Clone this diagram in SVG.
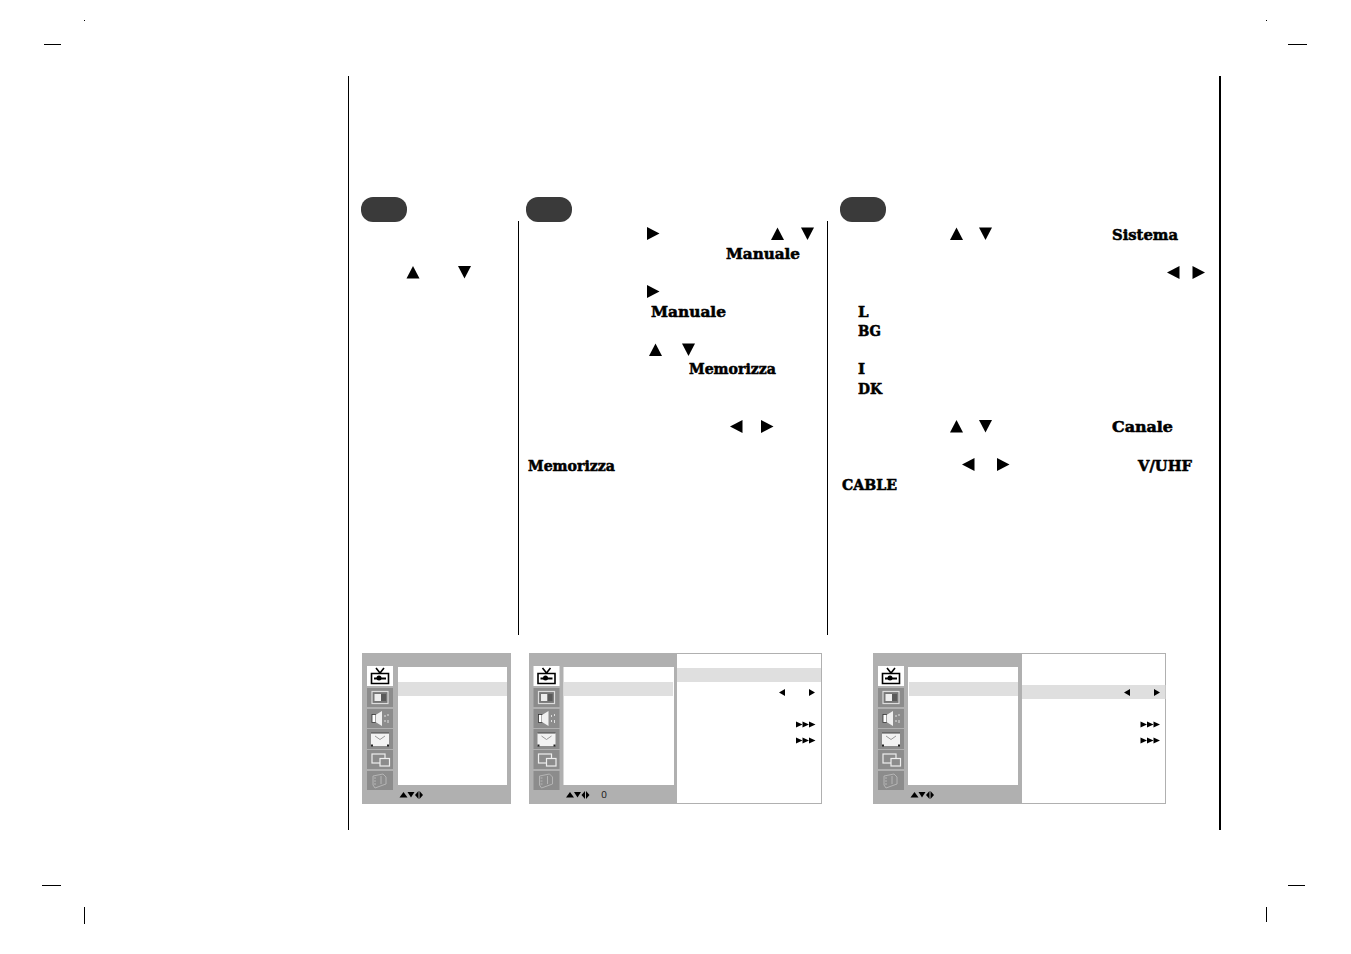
<svg xmlns="http://www.w3.org/2000/svg" width="1351" height="954" viewBox="0 0 1351 954">
<style>
.b{font-family:"DejaVu Serif","Liberation Serif",serif;font-weight:700;font-size:15px;fill:#000;stroke:#000;stroke-width:.55px}
.k{fill:#000}
.g{fill:#b0b0b0}
.w{fill:#fff}
.h{fill:#dfdfdf}
.t{fill:#8c8c8c}
.l{stroke:#000;fill:none}
.i{fill:none;stroke:#eee;stroke-width:1.2}
.d{fill:none;stroke:#000;stroke-width:1.6}
.bd{fill:none;stroke:#b0b0b0;stroke-width:1}
.p{fill:#3a3a3a}
</style>
<defs>
<polygon id="up" points="6.500,0 13,12.500 0,12.500"/>
<polygon id="dn" points="0,0 13,0 6.500,12.500"/>
<polygon id="lf" points="0,6.500 12.500,0 12.500,13"/>
<polygon id="rt" points="0,0 12.500,6.500 0,13"/>
<polygon id="sl" points="0,3 6,-0.500 6,6.500"/>
<polygon id="sr" points="0,-0.500 6,3 0,6.500"/>
<g id="triple"><polygon points="0,-0.500 6.500,2.500 0,5.500"/><polygon points="6.500,-0.500 13,2.500 6.500,5.500"/><polygon points="13,-0.500 19.500,2.500 13,5.500"/></g>
<g id="nav"><polygon points="0,5.500 4,0 8,5.500"/><polygon points="8,0 15,0 11.500,5.500"/><polygon points="15.500,3 19,-1 19,7"/><polygon points="20,-1 23.500,3 20,7"/></g>
<g id="icons">
<rect class="w" x="0" y="0" width="26" height="20"/>
<path class="d" d="M4.500 7.500H21.500V17.500H4.500ZM9 2L13 7L17 2" stroke-width="1.800"/>
<path d="M7 12.500H19" stroke="#000" stroke-width="2"/><circle cx="12" cy="12" r="2.500"/>
<rect class="t" x="0" y="22" width="26" height="19"/>
<rect x="5" y="25.500" width="16" height="12" fill="#777" stroke="#ddd" stroke-width="1.200"/><rect x="7.500" y="28" width="6.500" height="7" fill="#eee"/><rect x="14" y="28" width="5" height="7" fill="#5a5a5a"/>
<rect class="t" x="0" y="43" width="26" height="19"/>
<rect x="5" y="48.500" width="3.500" height="8" fill="#fff" stroke="#333" stroke-width=".8"/><path d="M8.500 49L15 45V60L8.500 56Z" fill="#f0f0f0"/><path d="M18 49V51M18 54V56M21 48V50M21 54V57" stroke="#ddd" fill="none"/>
<rect class="t" x="0" y="63" width="26" height="20"/>
<rect x="4" y="67" width="18" height="13" fill="#f2f2f2"/><path d="M4 67H22" stroke="#444"/><path d="M8 70L13 73.500L18 70" stroke="#999" fill="none"/>
<rect x="4" y="78.500" width="2" height="2" fill="#222"/><rect x="20" y="78.500" width="2" height="2" fill="#222"/>
<rect class="t" x="0" y="84" width="26" height="19"/>
<rect class="i" x="5" y="88" width="13" height="9"/><rect x="13" y="92.500" width="9.500" height="7.500" fill="#8c8c8c" stroke="#eee" stroke-width="1.200"/>
<rect class="t" x="0" y="105" width="26" height="19"/>
<path d="M6 110L16 108L19 111V118L8 122L6 119Z" fill="none" stroke="#b5b5b5"/><path d="M14 110V118M7 112H9M7 115H9M7 118H9" stroke="#b5b5b5"/>
</g>
</defs>

<g id="crop-marks">
<path class="l" d="M44 44.500H61M42 885.500H61M1288 44.500H1307M1288 885.500H1305M84.500 907V924M1266.500 907V922" stroke-width="1"/>
<rect class="k" x="84" y="20" width="1" height="1"/><rect class="k" x="1266" y="20" width="1" height="1"/>
</g>

<g id="connectors">
<path class="l" stroke-width="1" d="M348.500 76V830M518.500 221V635M827.500 221V635"/>
<path class="l" stroke-width="2" d="M1220 76V830"/>
</g>

<g id="step-1">
<rect class="p" x="361" y="197" width="46" height="25" rx="12"/>
<use href="#up" x="406.500" y="266"/><use href="#dn" x="458" y="266"/>
</g>

<g id="step-2">
<rect class="p" x="526" y="197" width="46" height="25" rx="12"/>
<use href="#rt" x="647" y="227"/><use href="#up" x="771" y="227.500"/><use href="#dn" x="801" y="227.500"/>
<text class="b" x="726" y="259" textLength="74" lengthAdjust="spacingAndGlyphs">Manuale</text>
<use href="#rt" x="647" y="285"/>
<text class="b" x="651" y="317" textLength="75" lengthAdjust="spacingAndGlyphs">Manuale</text>
<use href="#up" x="649" y="343.500"/><use href="#dn" x="682" y="343.500"/>
<text class="b" x="689" y="374" textLength="87" lengthAdjust="spacingAndGlyphs">Memorizza</text>
<use href="#lf" x="730" y="420"/><use href="#rt" x="761" y="420"/>
<text class="b" x="528" y="471" textLength="87" lengthAdjust="spacingAndGlyphs">Memorizza</text>
</g>

<g id="step-3">
<rect class="p" x="840" y="197" width="46" height="25" rx="12"/>
<use href="#up" x="950" y="227.500"/><use href="#dn" x="979" y="227.500"/>
<text class="b" x="1112" y="240" textLength="66" lengthAdjust="spacingAndGlyphs">Sistema</text>
<use href="#lf" x="1167" y="266"/><use href="#rt" x="1192.500" y="266"/>
<text class="b" x="858" y="317">L</text>
<text class="b" x="858" y="336" textLength="23" lengthAdjust="spacingAndGlyphs">BG</text>
<text class="b" x="858" y="374">I</text>
<text class="b" x="858" y="394" textLength="24" lengthAdjust="spacingAndGlyphs">DK</text>
<use href="#up" x="950" y="420"/><use href="#dn" x="979" y="420"/>
<text class="b" x="1112" y="432" textLength="61" lengthAdjust="spacingAndGlyphs">Canale</text>
<use href="#lf" x="962" y="458"/><use href="#rt" x="997" y="458"/>
<text class="b" x="1138" y="471" textLength="54" lengthAdjust="spacingAndGlyphs">V/UHF</text>
<text class="b" x="842" y="490" textLength="55" lengthAdjust="spacingAndGlyphs">CABLE</text>
</g>

<g id="menu-1">
<rect class="g" x="362" y="653" width="149" height="151"/>
<rect class="w" x="398" y="667" width="109" height="118"/>
<rect class="h" x="398" y="682" width="109" height="14"/>
<use href="#icons" x="367" y="666"/>
<use href="#nav" x="399.500" y="792"/>
</g>

<g id="menu-2">
<rect class="g" x="529" y="653" width="148" height="151"/>
<rect class="w" x="563.500" y="667" width="110.500" height="118"/>
<rect class="h" x="564" y="682" width="109" height="14"/>
<use href="#icons" x="533.500" y="666"/>
<use href="#nav" x="566" y="792"/>
<text x="604" y="798" font-family="Liberation Sans,sans-serif" font-size="10" fill="#222" text-anchor="middle" text-rendering="geometricPrecision">0</text>
<rect class="w" x="677" y="653.500" width="144.500" height="150"/>
<rect class="bd" x="676.500" y="653.500" width="145" height="150"/>
<rect class="h" x="677" y="668" width="144" height="14"/>
<use href="#sl" x="779" y="689.500"/><use href="#sr" x="809" y="689.500"/>
<use href="#triple" x="796" y="722"/><use href="#triple" x="796" y="738"/>
</g>

<g id="menu-3">
<rect class="g" x="873" y="653" width="149" height="151"/>
<rect class="w" x="908" y="667" width="110" height="118"/>
<rect class="h" x="909" y="682" width="109" height="14"/>
<use href="#icons" x="878" y="666"/>
<use href="#nav" x="910.500" y="792"/>
<rect class="w" x="1022" y="653.500" width="143.500" height="150"/>
<rect class="bd" x="1021.500" y="653.500" width="144" height="150"/>
<rect class="h" x="1022" y="685" width="143.500" height="14"/>
<use href="#sl" x="1124" y="689.500"/><use href="#sr" x="1154" y="689.500"/>
<use href="#triple" x="1140.500" y="722"/><use href="#triple" x="1140.500" y="738"/>
</g>
</svg>
